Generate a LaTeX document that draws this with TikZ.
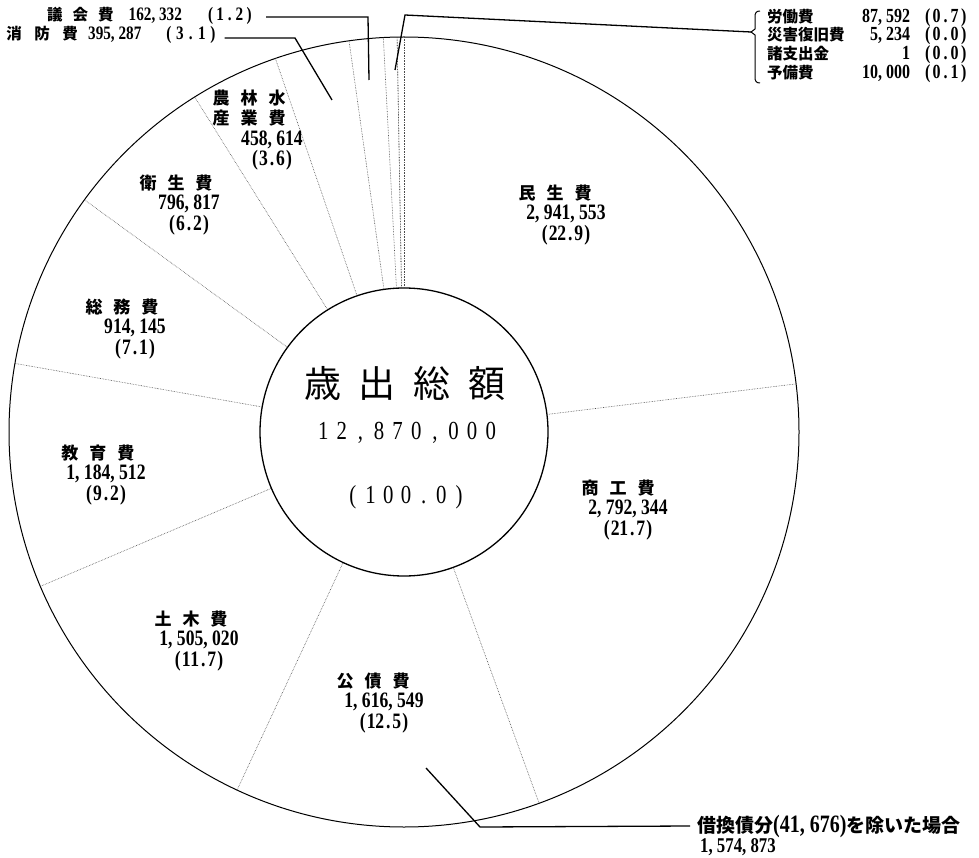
\documentclass[tikz,border=0pt]{standalone}
\usepackage{fontspec}
\usepackage{array}
\setmainfont{Liberation Serif}
\newfontfamily\jp{Noto Sans CJK JP}
\newfontfamily\numf{Liberation Serif}[FakeStretch=0.8]
\usetikzlibrary{positioning}

% every character of #2 in a box of width #1
\makeatletter
\newcommand\spaced[2]{\@tfor\sptok:=#2\do{\makebox[#1]{\sptok}}}
\makeatother
\newcommand\lname[2][28pt]{{\jp\bfseries\fontsize{17}{20}\selectfont\spaced{#1}{#2}}}
\newcommand\sname[2][28pt]{{\jp\bfseries\fontsize{15.5}{17}\selectfont\spaced{#1}{#2}}}

\begin{document}
\begin{tikzpicture}[x=1pt, y=-1pt]
\tikzstyle{slice} = [align=center, inner sep=0pt, font=\numf\bfseries\fontsize{22}{20.5}\selectfont]
\tikzstyle{side} = [inner sep=0pt, font=\numf\bfseries\fontsize{19}{17}\selectfont]
\tikzstyle{divider} = [black!70, line width=0.6pt, densely dotted]
\tikzstyle{leadline} = [line width=1.3pt]

\path[fill=white, use as bounding box] (0,0) rectangle (979,858);

\coordinate (c) at (404,432);
\node (pie) at (c) [circle, draw, line width=1pt, minimum size=790pt] {};
\node (total) at (c) [circle, draw, line width=1.3pt, minimum size=288pt] {};

% slice borders, clockwise from the top
\foreach \a [evaluate=\a as \b using 90-\a] in {0,82.28,160.39,205.61,247.71,280.84,306.41,328.70,341.53,352.59,357.13,359.58,359.72}
  \draw[divider] (total.\b) -- (pie.\b);

% centre
\node (title) at (405,383) {\jp\fontsize{37}{40}\selectfont\spaced{55pt}{歳出総額}};
\node (grand) at (407,433) {\numf\fontsize{26}{30}\selectfont\spaced{18.6pt}{12,870,000}};
\node (share) at (406,497) {\numf\fontsize{26}{30}\selectfont\spaced{17.7pt}{(100.0)}};

% slices
\node (minsei) at (566,215) [slice] {\lname{民生費}\kern22pt\\2, 941, 553\\\spaced{8.5pt}{(22.9)}};
\node (shoko) at (628,510) [slice] {\lname{商工費}\kern20pt\\2, 792, 344\\\spaced{8.5pt}{(21.7)}};
\node (kosai) at (384,703) [slice] {\lname{公債費}\kern22pt\\1, 616, 549\\\spaced{8.5pt}{(12.5)}};
\node (doboku) at (199,641) [slice] {\lname{土木費}\kern16pt\\1, 505, 020\\\spaced{8.5pt}{(11.7)}};
\node (kyoiku) at (106,475) [slice] {\lname{教育費}\kern16pt\\1, 184, 512\\\spaced{8.5pt}{(9.2)}};
\node (somu) at (135,329) [slice] {\lname{総務費}\kern26pt\\914, 145\\\spaced{8.5pt}{(7.1)}};
\node (eisei) at (189,205) [slice] {\lname{衛生費}\kern26pt\\796, 817\\\spaced{8.5pt}{(6.2)}};
\node (norin) at (272,130) [slice] {\lname{農林水}\kern46pt\\\lname{産業費}\kern46pt\\458, 614\\\spaced{8.5pt}{(3.6)}};

% small items, top left
\node (gikai) [side, anchor=west] at (42,16) {\sname[25.5pt]{議会費}\hspace{10pt}162, 332\hspace{24pt}\spaced{9.6pt}{(1.2)}};
\node (shobo) [side, anchor=west] at (0,35) {\sname{消防費}\hspace{4pt}395, 287\hspace{22pt}\spaced{11pt}{(3.1)}};
\coordinate (gk1) at (368,17);
\coordinate (gkend) at (369,80);
\coordinate (sb1) at (295,38);
\coordinate (sbend) at (332,100);
\draw[leadline] ([xshift=12pt,yshift=-1pt]gikai.east) -- (gk1) -- (gkend);
\draw[leadline] ([xshift=6pt,yshift=-3pt]shobo.east) -- (sb1) -- (sbend);

% small items, top right
\node (others) [anchor=north west, inner sep=0pt, font=\fontsize{15.5}{16.5}\selectfont] at (767,8) {%
  \begin{tabular}{@{}>{\jp\bfseries}p{95pt}@{}>{\numf\bfseries\fontsize{20}{16.5}\selectfont}r@{\hspace{13pt}}>{\numf\bfseries\fontsize{20}{16.5}\selectfont}l@{}}
  労働費 & 87, 592 & \spaced{9pt}{(0.7)}\\
  災害復旧費 & 5, 234 & \spaced{9pt}{(0.0)}\\
  諸支出金 & 1 & \spaced{9pt}{(0.0)}\\
  予備費 & 10, 000 & \spaced{9pt}{(0.1)}
  \end{tabular}};
\coordinate (otend) at (395,70);
\coordinate (ot1) at (405,15);
\coordinate (brtip) at (751,32);
\draw[leadline] (otend) -- (ot1) -- (brtip);
\draw[line width=1pt] (760,11) .. controls (756,11) and (755,13) .. (755,17) -- (755,29) -- (751,32) -- (755,35) -- (755,77) .. controls (755,81) and (756,83) .. (760,83);

% refinancing note
\node (karikae) [anchor=west, inner sep=0pt] at (697,826) {\jp\bfseries\fontsize{19}{22}\selectfont 借換債分{\numf\fontsize{25}{22}\selectfont(41, 676)}を除いた場合};
\node (kariamt) [below right=1pt and 3pt of karikae.south west, inner sep=0pt, font=\numf\bfseries\fontsize{21}{21}\selectfont] {1, 574, 873};
\coordinate (krend) at (426,768);
\coordinate (kr1) at (480,827);
\draw[leadline] (krend) -- (kr1) -- ([xshift=-7pt]karikae.west);
\end{tikzpicture}
\end{document}
